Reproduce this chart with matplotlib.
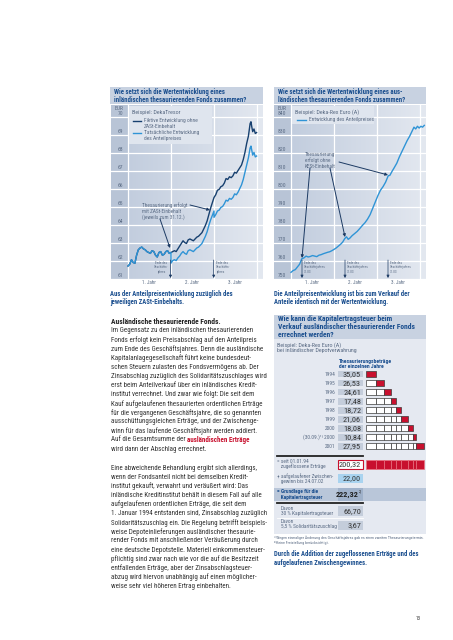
import matplotlib.pyplot as plt
import numpy as np
from matplotlib import font_manager
from matplotlib.colors import LinearSegmentedColormap
from matplotlib.patches import Rectangle

W, H = 453, 640

# pick a narrow sans if there is one, the sizes get fitted to the reference widths anyway
names = {f.name for f in font_manager.fontManager.ttflist}
fams = [n for n in ['Liberation Sans Narrow', 'Roboto Condensed', 'Liberation Sans'] if n in names]
plt.rcParams['font.family'] = fams + ['DejaVu Sans']

# --- left chart: DekaTresor (years since purchase, EUR) ---
dark_t = [0.00, 0.04, 0.08, 0.12, 0.16, 0.20, 0.24, 0.28, 0.32, 0.36, 0.40, 0.44, 0.48,
          0.52, 0.56, 0.60, 0.64, 0.68, 0.72, 0.76, 0.80, 0.84, 0.88, 0.92, 0.96, 1.00,
          1.04, 1.08, 1.12, 1.16, 1.20, 1.24, 1.28, 1.32, 1.36, 1.40, 1.44, 1.48, 1.52,
          1.56, 1.60, 1.64, 1.68, 1.72, 1.76, 1.80, 1.84, 1.88, 1.92, 1.96, 2.00, 2.04,
          2.08, 2.12, 2.16, 2.20, 2.24, 2.28, 2.32, 2.36, 2.40, 2.44, 2.48, 2.52, 2.56,
          2.60, 2.64, 2.68, 2.72, 2.76, 2.80, 2.84, 2.86, 2.88, 2.90, 2.93, 2.96, 2.99]
dark_v = [61.72, 61.82, 62.07, 61.92, 61.87, 62.32, 62.62, 62.72, 62.77, 62.67, 62.62, 62.52, 62.47,
          62.42, 62.57, 62.52, 62.32, 62.22, 62.47, 62.52, 62.32, 62.37, 62.52, 62.57, 62.42, 62.47,
          62.52, 62.57, 62.52, 62.67, 62.82, 62.97, 63.12, 63.02, 62.97, 63.17, 63.22, 63.17, 63.12,
          63.22, 63.32, 63.37, 63.47, 63.57, 63.77, 63.97, 64.22, 64.57, 64.92, 65.22, 65.52, 65.67,
          65.92, 65.97, 66.12, 66.17, 66.32, 66.57, 66.52, 66.67, 66.62, 66.72, 66.92, 66.87, 67.02,
          67.17, 67.32, 67.62, 68.02, 68.52, 68.92, 69.62, 69.72, 69.42, 69.17, 69.32, 69.07, 69.12]

light_t = [0.00, 0.04, 0.08, 0.12, 0.16, 0.20, 0.24, 0.28, 0.32, 0.36, 0.40, 0.44, 0.48,
           0.52, 0.56, 0.60, 0.64, 0.68, 0.72, 0.76, 0.80, 0.84, 0.88, 0.92, 0.96, 1.00,
           1.00, 1.04, 1.08, 1.12, 1.16, 1.20, 1.24, 1.28, 1.32, 1.36, 1.40, 1.44, 1.48,
           1.52, 1.56, 1.60, 1.64, 1.68, 1.72, 1.76, 1.80, 1.84, 1.88, 1.92, 1.96, 2.00,
           2.00, 2.04, 2.08, 2.12, 2.16, 2.20, 2.24, 2.28, 2.32, 2.36, 2.40, 2.44, 2.48,
           2.52, 2.56, 2.60, 2.64, 2.68, 2.72, 2.76, 2.80, 2.84, 2.86, 2.88, 2.90, 2.93,
           2.96, 2.99]
light_v = [61.72, 61.82, 62.07, 61.92, 61.87, 62.32, 62.62, 62.72, 62.77, 62.67, 62.62, 62.52, 62.47,
           62.42, 62.57, 62.52, 62.32, 62.22, 62.47, 62.52, 62.32, 62.37, 62.52, 62.57, 62.42, 62.47,
           61.88, 62.02, 62.07, 62.02, 62.17, 62.27, 62.42, 62.52, 62.42, 62.37, 62.57, 62.62, 62.57,
           62.52, 62.62, 62.72, 62.77, 62.87, 62.97, 63.17, 63.37, 63.62, 63.97, 64.27, 64.52, 64.77,
           64.42, 64.57, 64.77, 64.82, 64.97, 65.02, 65.17, 65.37, 65.32, 65.47, 65.42, 65.52, 65.72,
           65.67, 65.82, 66.02, 66.22, 66.52, 66.92, 67.32, 67.72, 68.27, 68.37, 68.12, 67.87, 68.02,
           67.77, 67.82]

# --- right chart: Deka-Rex Euro (A) ---
rex_t = [0.00, 0.05, 0.10, 0.15, 0.20, 0.25, 0.30, 0.35, 0.40, 0.45, 0.50, 0.55, 0.60,
         0.65, 0.70, 0.75, 0.80, 0.85, 0.90, 0.95, 1.00, 1.05, 1.10, 1.15, 1.20, 1.25,
         1.29, 1.33, 1.37, 1.42, 1.48, 1.54, 1.60, 1.66, 1.72, 1.78, 1.84, 1.90, 1.96,
         2.02, 2.08, 2.14, 2.20, 2.26, 2.30, 2.35, 2.40, 2.46, 2.52, 2.58, 2.64, 2.70,
         2.76, 2.82, 2.86, 2.90, 2.94, 2.98, 3.02, 3.06, 3.10]
rex_v = [753.7, 754.7, 755.2, 756.7, 758.2, 761.2, 761.7, 762.7, 762.2, 762.5, 763.0, 762.7, 762.4,
         763.2, 763.5, 764.0, 764.4, 764.8, 765.1, 765.7, 766.4, 767.2, 768.2, 769.2, 770.4, 772.4,
         773.4, 772.0, 772.7, 774.0, 775.2, 776.4, 778.0, 779.7, 781.2, 783.2, 785.7, 789.2, 792.7,
         796.2, 799.2, 801.2, 803.7, 807.2, 807.5, 809.7, 811.7, 814.2, 817.7, 820.7, 823.7, 826.7,
         829.2, 832.2, 834.2, 833.2, 834.7, 833.7, 834.7, 834.2, 835.2]

# --- table: Thesaurierungsbetraege ---
tab_years = ['1994', '1995', '1996', '1997', '1998', '1999', '2000', '(30.09.)¹⁾ 2000', '2001']
tab_values = [35.05, 26.53, 24.61, 17.48, 18.72, 21.06, 18.08, 10.84, 27.95]
zwischengewinn = 22.00
grundlage = 222.32
kest = 66.70
soli = 3.67

body1 = ['Im Gegensatz zu den inländischen thesaurierenden',
         'Fonds erfolgt kein Preisabschlag auf den Anteilpreis',
         'zum Ende des Geschäftsjahres. Denn die ausländische',
         'Kapitalanlagegesellschaft führt keine bundesdeut-',
         'schen Steuern zulasten des Fondsvermögens ab. Der',
         'Zinsabschlag zuzüglich des Solidaritätszuschlages wird',
         'erst beim Anteilverkauf über ein inländisches Kredit-',
         'institut verrechnet. Und zwar wie folgt: Die seit dem',
         'Kauf aufgelaufenen thesaurierten ordentlichen Erträge',
         'für die vergangenen Geschäftsjahre, die so genannten',
         'ausschüttungsgleichen Erträge, und der Zwischenge-',
         'winn für das laufende Geschäftsjahr werden addiert.',
         'Auf die Gesamtsumme der ',
         'wird dann der Abschlag errechnet.']
body2 = ['Eine abweichende Behandlung ergibt sich allerdings,',
         'wenn der Fondsanteil nicht bei demselben Kredit-',
         'institut gekauft, verwahrt und veräußert wird: Das',
         'inländische Kreditinstitut behält in diesem Fall auf alle',
         'aufgelaufenen ordentlichen Erträge, die seit dem',
         '1. Januar 1994 entstanden sind, Zinsabschlag zuzüglich',
         'Solidaritätszuschlag ein. Die Regelung betrifft beispiels-',
         'weise Depoteinlieferungen ausländischer thesaurie-',
         'render Fonds mit anschließender Veräußerung durch',
         'eine deutsche Depotstelle. Materiell einkommensteuer-',
         'pflichtig sind zwar nach wie vor die auf die Besitzzeit',
         'entfallenden Erträge, aber der Zinsabschlagsteuer-',
         'abzug wird hiervon unabhängig auf einen möglicher-',
         'weise sehr viel höheren Ertrag einbehalten.']
foot1 = '¹⁾Wegen einmaliger Änderung des Geschäftsjahres gab es einen zweiten Thesaurierungstermin.'
foot2 = '²⁾Keine Freistellung berücksichtigt.'

BLUE = '#1b4f8f'
BAR = '#c8d2e1'
GRAY = '#5a6b84'
RED = '#c8102e'
TXT = '#333333'

fig = plt.figure(figsize=(W / 100, H / 100), dpi=100)
bg = fig.add_axes([0, 0, 1, 1])
bg.set_xlim(0, W)
bg.set_ylim(H, 0)
bg.axis('off')

top = fig.add_axes([0, 0, 1, 1], zorder=5)
top.set_xlim(0, W)
top.set_ylim(H, 0)
top.axis('off')
top.patch.set_alpha(0)

R = fig.canvas.get_renderer()


def fit(s, width, weight='normal'):
    # font size that makes s as wide as in the reference
    t = bg.text(0, 0, s, fontsize=10, weight=weight)
    w = t.get_window_extent(R).width
    t.remove()
    return 10 * width / w


FS_BODY = fit('Zinsabschlag zuzüglich des Solidaritätszuschlages wird', 153)
FS_HEAD = fit('Ausländische thesaurierende Fonds.', 109, 'bold')
FS_TITLE = fit('inländischen thesaurierenden Fonds zusammen?', 144, 'bold')
FS_CAP = fit('Aus der Anteilpreisentwicklung zuzüglich des', 121, 'bold')
FS_LEG = fit('Fiktive Entwicklung ohne', 53)
FS_LEGT = fit('Beispiel: DekaTresor', 48)
FS_TAB = fit('5,5 % Solidaritätszuschlag', 55)
FS_FOOT = fit(foot1, 152)
FS_YEAR = fit('1. Jahr', 14)
FS_TICK = fit('62', 5.5)
FS_VAL = fit('35,05', 18)
FS_HDR = fit('Thesaurierungsbeträge', 53, 'bold')
FS_ANN = fit('(jeweils zum 31.12.)', 42)
FS_ENDE = fit('Geschäftsjahres', 22)
FS_TABT = fit('Verkauf ausländischer thesaurierender Fonds', 136, 'bold')


def px_axes(x0, y0, x1, y1, z=2):
    return fig.add_axes([x0 / W, 1 - y1 / H, (x1 - x0) / W, (y1 - y0) / H], zorder=z)


grad_cmap = LinearSegmentedColormap.from_list('g', ['#c2cdde', '#e3e8f0'])


def chart(x0, x1, tzero, vmin, vmax, step):
    ax = px_axes(x0, 105, x1, 279)
    per = (279 - 116.7) / (vmax - vmin)
    xl = ((x0 - tzero) / 43, (x1 - tzero) / 43)
    yl = (vmin, vmin + (279 - 105) / per)
    ax.set_xlim(*xl)
    ax.set_ylim(*yl)
    ax.axis('off')
    g = np.linspace(0, 1, 256).reshape(1, -1)
    ax.imshow(g, extent=[0, xl[1], yl[0], yl[1]], cmap=grad_cmap, aspect='auto', zorder=0)
    ax.axvspan(xl[0], 0, color='#b8c4d6', zorder=0.5, lw=0)
    for v in np.arange(vmin, vmax + step / 2, step):
        ax.axhline(v, color='white', lw=0.9, zorder=1)
        lab = '%d' % v
        if v == vmax:
            lab = 'EUR\n' + lab
        ax.text(-0.115, v + 0.04 * step, lab, ha='right', va='bottom', fontsize=FS_TICK,
                color=GRAY, linespacing=0.95)
    for k in range(4):
        ax.axvline(k, color='white', lw=0.9, zorder=1)
    return ax


def title_bar(x0, x1, y0, y1, lines, size, pitch):
    bg.add_patch(Rectangle((x0, y0), x1 - x0, y1 - y0, color=BAR, lw=0))
    ls = pitch / (0.94 * size * 100 / 72)
    bg.text(x0 + 4, (y0 + y1) / 2 + 0.3, '\n'.join(lines), fontsize=size, weight='bold',
            color=BLUE, va='center', linespacing=ls)


# ---------- left chart ----------
title_bar(110, 263, 87, 104, ['Wie setzt sich die Wertentwicklung eines',
                              'inländischen thesaurierenden Fonds zusammen?'], FS_TITLE * 0.92, 7.0)
axl = chart(111, 263, 128, 61, 70, 1)
axl.plot(dark_t, dark_v, color='#17406f', lw=1.0, zorder=3)
axl.plot(light_t, light_v, color='#2f94d6', lw=1.0, zorder=4)

top.add_patch(Rectangle((129, 106), 83, 38, color='#dfe5ee', lw=0))
top.text(132, 112.5, 'Beispiel: DekaTresor', fontsize=FS_LEGT, color=GRAY, va='center')
top.plot([133, 141], [120.5, 120.5], color='#17406f', lw=1.0)
top.text(144, 118.3, 'Fiktive Entwicklung ohne\nZASt-Einbehalt', fontsize=FS_LEG, color=GRAY,
         va='top', linespacing=1.1)
top.plot([133, 141], [132.5, 132.5], color='#2f94d6', lw=1.0)
top.text(144, 130.3, 'Tatsächliche Entwicklung\ndes Anteilpreises', fontsize=FS_LEG, color=GRAY,
         va='top', linespacing=1.1)

top.text(142, 202.5, 'Thesaurierung erfolgt\nmit ZASt-Einbehalt\n(jeweils zum 31.12.)',
         fontsize=FS_ANN, color=GRAY, va='top', linespacing=1.1)
arr = dict(arrowstyle='-|>', color='#1c3a63', lw=0.7, mutation_scale=4, shrinkA=0, shrinkB=0)
top.annotate('', xy=(170, 248), xytext=(160, 219), arrowprops=arr)
top.annotate('', xy=(210, 210), xytext=(190, 205), arrowprops=arr)
for xa in (170.5, 213.7):
    top.annotate('', xy=(xa, 278), xytext=(xa, 260), arrowprops=dict(arr, lw=0.5))
top.text(168.5, 261, 'Ende des\nGeschäfts-\njahres', fontsize=FS_ENDE, color=GRAY, va='top',
         ha='right', linespacing=1.1, multialignment='center')
top.text(216, 261, 'Ende des\nGeschäfts-\njahres', fontsize=FS_ENDE, color=GRAY, va='top',
         ha='left', linespacing=1.1)
for xc, s in zip((149, 192, 235), ('1. Jahr', '2. Jahr', '3. Jahr')):
    bg.text(xc, 283, s, fontsize=FS_YEAR, color=GRAY, ha='center', va='center')

# ---------- right chart ----------
title_bar(274, 426, 87, 104, ['Wie setzt sich die Wertentwicklung eines aus-',
                              'ländischen thesaurierenden Fonds zusammen?'], FS_TITLE * 0.92, 7.0)
axr = chart(274, 426, 291, 750, 840, 10)
axr.plot(rex_t, rex_v, color='#2f94d6', lw=1.0, zorder=4)

top.add_patch(Rectangle((292, 106), 82, 18, color='#dfe5ee', lw=0))
top.text(295, 112.5, 'Beispiel: Deka-Rex Euro (A)', fontsize=FS_LEGT, color=GRAY, va='center')
top.plot([297, 306], [120, 120], color='#2f94d6', lw=1.0)
top.text(309, 120, 'Entwicklung des Anteilpreises', fontsize=FS_LEG, color=GRAY, va='center')

top.text(305, 152, 'Thesaurierung\nerfolgt ohne\nKESt-Einbehalt', fontsize=FS_ANN, color=GRAY,
         va='top', linespacing=1.1)
top.annotate('', xy=(302, 258), xytext=(310, 168), arrowprops=arr)
top.annotate('', xy=(345, 237), xytext=(330, 168), arrowprops=arr)
top.annotate('', xy=(388, 175), xytext=(339, 162), arrowprops=arr)
for xa in (302, 345, 388):
    top.annotate('', xy=(xa, 278), xytext=(xa, 260), arrowprops=dict(arr, lw=0.5))
    top.text(xa + 2, 261, 'Ende des\nGeschäftsjahres\n31.03', fontsize=FS_ENDE, color=GRAY,
             va='top', ha='left', linespacing=1.1)
for xc, s in zip((312, 355, 398), ('1. Jahr', '2. Jahr', '3. Jahr')):
    bg.text(xc, 283, s, fontsize=FS_YEAR, color=GRAY, ha='center', va='center')

# ---------- captions ----------
bg.text(110, 298, 'Aus der Anteilpreisentwicklung zuzüglich des\njeweiligen ZASt-Einbehalts.',
        fontsize=FS_CAP, weight='bold', color=BLUE, va='center', linespacing=1.05)
bg.text(274, 298, 'Die Anteilpreisentwicklung ist bis zum Verkauf der\n'
        'Anteile identisch mit der Wertentwicklung.', fontsize=FS_CAP, weight='bold',
        color=BLUE, va='center', linespacing=1.05)

# ---------- body text ----------
bg.text(111, 321.5, 'Ausländische thesaurierende Fonds.', fontsize=FS_HEAD, weight='bold',
        color='#222222', va='center')
red_line = None
for i, s in enumerate(body1):
    t = bg.text(111, 331 + i * 9.08, s, fontsize=FS_BODY, color=TXT, va='center')
    if s.startswith('Auf die'):
        red_line = t
for i, s in enumerate(body2):
    bg.text(111, 468 + i * 9.12, s, fontsize=FS_BODY, color=TXT, va='center')

bb = red_line.get_window_extent(R)
bg.text(bb.x1, red_line.get_position()[1], 'ausländischen Erträge', fontsize=FS_BODY,
        weight='bold', color=RED, va='center')

# ---------- table panel ----------
title_bar(274, 426, 315, 339, ['Wie kann die Kapitalertragsteuer beim',
                               'Verkauf ausländischer thesaurierender Fonds',
                               'errechnet werden?'], FS_TABT, 7.1)
bg.add_patch(Rectangle((274, 339), 152, 195, color='#e5e9f1', lw=0))
bg.text(277, 348, 'Beispiel: Deka-Rex Euro (A)\nbei inländischer Depotverwahrung',
        fontsize=FS_LEGT, color=GRAY, va='center', linespacing=1.05)
bg.text(339, 364, 'Thesaurierungsbeträge\nder einzelnen Jahre', fontsize=FS_HDR, weight='bold',
        color=BLUE, va='center', linespacing=1.05)


def money(v):
    return ('%.2f' % v).replace('.', ',')


row_y = [374 + i * 9.04 for i in range(len(tab_years))]
for yy, yr, v in zip(row_y, tab_years, tab_values):
    bg.text(335, yy, yr, fontsize=FS_TAB, color=GRAY, ha='right', va='center')
    bg.add_patch(Rectangle((338, yy - 3.4), 25, 6.8, color='#c4cddb', lw=0))
    bg.text(361, yy, money(v), fontsize=FS_VAL, color='#333333', ha='right', va='center')

cum = np.concatenate([[0], np.cumsum(tab_values)[:-1]])
axb = px_axes(366, 369, 426, 470, z=3)
axb.set_xlim(0, 60 / 0.29)
axb.set_ylim(10.62, -0.553)
axb.axis('off')
for i in range(len(tab_values)):
    axb.barh([i] * i, tab_values[:i], left=cum[:i], height=0.7, color='white',
             edgecolor='#3a3a3a', lw=0.5)
    axb.barh(i, tab_values[i], left=cum[i], height=0.7, color=RED, edgecolor='#3a3a3a', lw=0.5)
axb.barh([10] * len(tab_values), tab_values, left=cum, height=1.0, color=RED,
         edgecolor='#e8707e', lw=0.5)

bg.plot([277, 363], [455.5, 455.5], color='#222222', lw=1.3)
total = sum(tab_values)
bg.text(277, 464, '= seit 01.01.94\n   zugeflossene Erträge', fontsize=FS_TAB, color=GRAY,
        va='center', linespacing=1.05)
bg.add_patch(Rectangle((338, 459.8), 25, 9.4, facecolor='white', edgecolor=RED, lw=0.8))
bg.text(361, 464.5, money(total), fontsize=FS_VAL, color='#333333', ha='right', va='center')

bg.text(277, 478.3, '+ aufgelaufener Zwischen-\n   gewinn bis 24.07.02', fontsize=FS_TAB,
        color=GRAY, va='center', linespacing=1.05)
bg.add_patch(Rectangle((338, 473.5), 25, 9.5, color='#a9d3ef', lw=0))
bg.text(361, 478.3, money(zwischengewinn), fontsize=FS_VAL, color='#333333', ha='right',
        va='center')

bg.add_patch(Rectangle((274, 487.5), 152, 13.5, color='#b9c6d9', lw=0))
bg.add_patch(Rectangle((338, 487.5), 25, 13.5, color='#9fb1ca', lw=0))
bg.text(277, 494.5, '= Grundlage für die\n   Kapitalertragsteuer', fontsize=FS_TAB,
        weight='bold', color=BLUE, va='center', linespacing=1.05)
bg.text(358.5, 494.5, money(grundlage), fontsize=FS_VAL, weight='bold', color='#222222',
        ha='right', va='center')
bg.text(359, 491.5, '2)', fontsize=FS_VAL * 0.5, color='#222222', ha='left', va='center')
bg.plot([277, 363], [502.8, 502.8], color='#222222', lw=1.3)

bg.text(281, 511, 'Davon\n30 % Kapitalertragsteuer', fontsize=FS_TAB, color=GRAY, va='center',
        linespacing=1.0)
bg.add_patch(Rectangle((338, 506), 25, 9.5, color='#c4cddb', lw=0))
bg.text(361, 510.8, money(kest), fontsize=FS_VAL, color='#333333', ha='right', va='center')
bg.plot([277, 363], [517.8, 517.8], color='#ffffff', lw=0.6)
bg.text(281, 524, 'Davon\n5,5 % Solidaritätszuschlag', fontsize=FS_TAB, color=GRAY, va='center',
        linespacing=1.0)
bg.add_patch(Rectangle((338, 520.5), 25, 9.5, color='#c4cddb', lw=0))
bg.text(361, 525.3, money(soli), fontsize=FS_VAL, color='#333333', ha='right', va='center')

bg.text(274, 539.8, foot1 + '\n' + foot2, fontsize=FS_FOOT, color=GRAY, va='center',
        linespacing=1.2)

bg.text(274, 558.5, 'Durch die Addition der zugeflossenen Erträge und des\n'
        'aufgelaufenen Zwischengewinnes.', fontsize=FS_CAP, weight='bold', color=BLUE,
        va='center', linespacing=1.05)

bg.text(421, 619, '13', fontsize=FS_YEAR, color='#333333', ha='right', va='center')

fig.savefig('out.png', dpi=100)
